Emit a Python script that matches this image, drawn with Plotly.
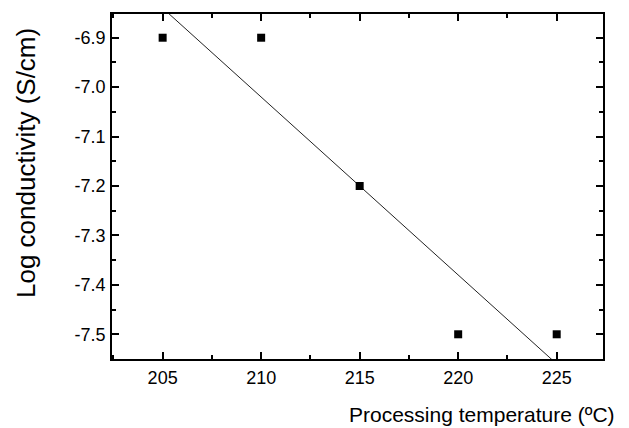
import numpy as np
import plotly.graph_objects as go

# Data
temperature = [205, 210, 215, 220, 225]
log_conductivity = [-6.9, -6.9, -7.2, -7.5, -7.5]

x_ticks = [205, 210, 215, 220, 225]
y_ticks = [-6.9, -7.0, -7.1, -7.2, -7.3, -7.4, -7.5]
y_ticklabels = ["-6.9", "-7.0", "-7.1", "-7.2", "-7.3", "-7.4", "-7.5"]

# Linear fit line
slope, intercept = np.polyfit(temperature, log_conductivity, 1)
fit_x = [temperature[0], temperature[-1]]
fit_y = [slope * v + intercept for v in fit_x]

fig = go.Figure()
fig.add_trace(go.Scatter(x=fit_x, y=fit_y, mode="lines",
                         line=dict(color="#222222", width=1), showlegend=False))
fig.add_trace(go.Scatter(x=temperature, y=log_conductivity, mode="markers",
                         marker=dict(symbol="square", size=8, color="black"),
                         showlegend=False))

font_family = "Liberation Sans, Arial, sans-serif"

fig.update_layout(
    width=629, height=428,
    margin=dict(l=112, r=26, t=14, b=69),
    paper_bgcolor="white", plot_bgcolor="white",
    font=dict(family=font_family, color="black"),
    xaxis=dict(range=[202.43, 227.35], tickvals=x_ticks, ticks="inside",
               ticklen=7, tickwidth=1.5, tickcolor="black",
               showline=True, linecolor="black", linewidth=1.5,
               mirror="allticks", showgrid=False, zeroline=False,
               tickfont=dict(size=18, family=font_family),
               ticklabelstandoff=2,
               minor=dict(tick0=202.5, dtick=5, ticks="inside", ticklen=4,
                          tickwidth=1.5, tickcolor="black", showgrid=False)),
    yaxis=dict(range=[-7.55, -6.852], tickvals=y_ticks, ticktext=y_ticklabels,
               ticks="inside", ticklen=7, tickwidth=1.5, tickcolor="black",
               showline=True, linecolor="black", linewidth=1.5,
               mirror="allticks", showgrid=False, zeroline=False,
               tickfont=dict(size=18, family=font_family),
               ticklabelstandoff=1,
               minor=dict(tick0=-6.95, dtick=0.1, ticks="inside", ticklen=4,
                          tickwidth=1.5, tickcolor="black", showgrid=False)),
    annotations=[
        dict(text="Processing temperature (ºC)", xref="paper", yref="paper",
             x=1, xshift=14, y=0, yshift=-42, xanchor="right", yanchor="top",
             showarrow=False, font=dict(size=21, family=font_family, color="black")),
        dict(text="Log conductivity (S/cm)", xref="paper", yref="paper",
             x=0, xshift=-86, y=0.568, textangle=-90, xanchor="center", yanchor="middle",
             showarrow=False, font=dict(size=26, family=font_family, color="black")),
    ],
)

fig.write_html("out.html", config={"displayModeBar": False},
               post_script="document.body.style.margin='0';")
